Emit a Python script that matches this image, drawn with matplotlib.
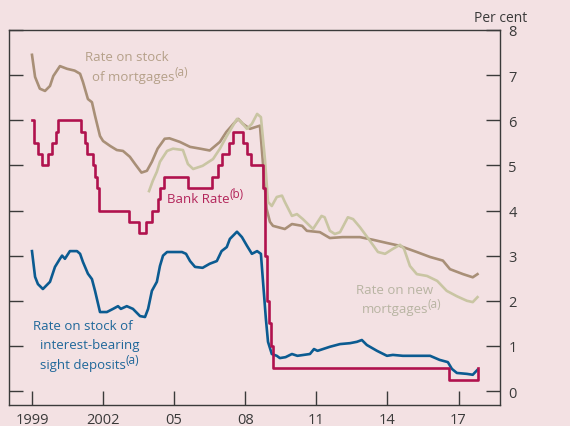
import matplotlib
matplotlib.use('Agg')
import matplotlib.pyplot as plt
import numpy as np

plt.rcParams['font.family'] = ['Open Sans', 'DejaVu Sans']

# Bank Rate: (date the rate took effect, rate)
bank_dates = [1999.0, 1999.08, 1999.25, 1999.42, 1999.67, 1999.83, 2000.0, 2000.08,
              2001.08, 2001.25, 2001.33, 2001.58, 2001.67, 2001.75, 2001.83,
              2003.08, 2003.5, 2003.83, 2004.08, 2004.33, 2004.42, 2004.58,
              2005.58, 2006.58, 2006.83, 2007.0, 2007.33, 2007.5, 2007.92,
              2008.08, 2008.25, 2008.75, 2008.83, 2008.92, 2009.0, 2009.08, 2009.17,
              2016.58, 2017.83]
bank_rate = [6.0, 5.5, 5.25, 5.0, 5.25, 5.5, 5.75, 6.0,
             5.75, 5.5, 5.25, 5.0, 4.75, 4.5, 4.0,
             3.75, 3.5, 3.75, 4.0, 4.25, 4.5, 4.75,
             4.5, 4.75, 5.0, 5.25, 5.5, 5.75, 5.5,
             5.25, 5.0, 4.5, 3.0, 2.0, 1.5, 1.0, 0.5,
             0.25, 0.5]

stock_dates = [1999.0, 1999.13, 1999.33, 1999.55, 1999.76, 1999.9, 2000.18, 2000.48,
               2000.8, 2001.03, 2001.15, 2001.36, 2001.53, 2001.66, 2001.87, 2002.0,
               2002.3, 2002.58, 2002.84, 2003.13, 2003.35, 2003.62, 2003.85, 2004.06,
               2004.3, 2004.6, 2004.8, 2005.24, 2005.67, 2006.1, 2006.5, 2006.93,
               2007.2, 2007.5, 2007.7, 2007.9, 2008.2, 2008.62, 2008.9, 2009.04,
               2009.17, 2009.67, 2009.97, 2010.4, 2010.6, 2011.15, 2011.57, 2012.1,
               2012.84, 2013.4, 2013.98, 2014.5, 2015.24, 2015.8, 2016.34, 2016.64,
               2017.19, 2017.6, 2017.8]
stock_rate = [7.45, 6.96, 6.7, 6.65, 6.76, 6.98, 7.2, 7.14,
              7.1, 7.03, 6.85, 6.47, 6.4, 6.1, 5.65, 5.54,
              5.43, 5.34, 5.32, 5.19, 5.03, 4.84, 4.88, 5.08,
              5.37, 5.59, 5.6, 5.52, 5.41, 5.37, 5.33, 5.52,
              5.74, 5.92, 6.03, 5.92, 5.81, 5.88, 4.04, 3.75,
              3.66, 3.59, 3.7, 3.66, 3.55, 3.52, 3.39, 3.41,
              3.41, 3.35, 3.28, 3.22, 3.08, 2.97, 2.89, 2.7,
              2.59, 2.52, 2.59]

new_dates = [2003.94, 2004.1, 2004.27, 2004.4, 2004.7, 2004.95, 2005.37, 2005.58,
             2005.8, 2006.2, 2006.64, 2006.93, 2007.22, 2007.65, 2007.78, 2008.07,
             2008.28, 2008.5, 2008.66, 2008.83, 2008.96, 2009.12, 2009.33, 2009.55,
             2009.67, 2009.97, 2010.18, 2010.43, 2010.86, 2011.22, 2011.35, 2011.57,
             2011.78, 2012.0, 2012.33, 2012.55, 2012.84, 2013.26, 2013.6, 2013.9,
             2014.23, 2014.53, 2014.7, 2014.95, 2015.24, 2015.67, 2016.1, 2016.5,
             2016.93, 2017.35, 2017.6, 2017.8]
new_rate = [4.43, 4.66, 4.86, 5.08, 5.32, 5.37, 5.34, 5.03,
            4.92, 4.99, 5.14, 5.37, 5.65, 6.03, 5.99, 5.81,
            5.92, 6.14, 6.07, 5.14, 4.19, 4.1, 4.3, 4.33,
            4.19, 3.88, 3.92, 3.81, 3.59, 3.88, 3.85, 3.55,
            3.48, 3.52, 3.85, 3.81, 3.63, 3.33, 3.08, 3.04,
            3.15, 3.24, 3.15, 2.77, 2.59, 2.55, 2.44, 2.22,
            2.1, 2.0, 1.97, 2.08]

dep_dates = [1999.0, 1999.13, 1999.25, 1999.46, 1999.76, 1999.97, 2000.18, 2000.27,
             2000.39, 2000.6, 2000.9, 2001.03, 2001.15, 2001.36, 2001.53, 2001.66,
             2001.87, 2002.16, 2002.42, 2002.63, 2002.75, 2003.0, 2003.26, 2003.56,
             2003.77, 2003.9, 2004.06, 2004.27, 2004.4, 2004.53, 2004.7, 2005.0,
             2005.33, 2005.5, 2005.67, 2005.88, 2006.2, 2006.5, 2006.8, 2007.0,
             2007.22, 2007.35, 2007.65, 2007.86, 2008.07, 2008.28, 2008.5, 2008.66,
             2008.75, 2008.87, 2008.96, 2009.12, 2009.33, 2009.46, 2009.7, 2009.97,
             2010.2, 2010.73, 2010.9, 2011.05, 2011.57, 2012.0, 2012.42, 2012.71,
             2012.92, 2013.13, 2013.56, 2013.98, 2014.23, 2014.65, 2015.24, 2015.8,
             2016.2, 2016.55, 2016.72, 2016.93, 2017.35, 2017.6, 2017.8]
dep_rate = [3.1, 2.53, 2.37, 2.26, 2.42, 2.75, 2.93, 3.0,
            2.93, 3.1, 3.1, 3.04, 2.86, 2.6, 2.48, 2.22,
            1.75, 1.75, 1.82, 1.88, 1.82, 1.88, 1.82, 1.66,
            1.64, 1.82, 2.22, 2.42, 2.77, 3.0, 3.08, 3.08,
            3.08, 3.04, 2.88, 2.75, 2.73, 2.82, 2.88, 3.1,
            3.19, 3.37, 3.53, 3.41, 3.22, 3.04, 3.1, 3.04,
            2.42, 1.6, 1.09, 0.82, 0.78, 0.73, 0.75, 0.82,
            0.78, 0.82, 0.93, 0.89, 0.98, 1.04, 1.06, 1.09,
            1.13, 1.02, 0.89, 0.78, 0.8, 0.78, 0.78, 0.78,
            0.69, 0.64, 0.49, 0.4, 0.38, 0.36, 0.47]

tick_years = [1999, 2002, 2005, 2008, 2011, 2014, 2017]
tick_labels = ['1999', '2002', '05', '08', '11', '14', '17']

bg = '#f3e1e3'
c_bank = '#b0124e'
c_stock = '#a88f77'
c_new = '#c9c5a3'
c_dep = '#0b5b91'
dark = '#3a3a3a'

fig = plt.figure(figsize=(5.7, 4.27), dpi=100, facecolor=bg)
ax = fig.add_axes([9/570, 1-406/427, 491/570, 375/427])
ax.set_facecolor(bg)

lw = 1.9
ax.plot(stock_dates, stock_rate, color=c_stock, lw=lw)
ax.plot(new_dates, new_rate, color=c_new, lw=lw)
ax.plot(dep_dates, dep_rate, color=c_dep, lw=lw)
ax.plot(bank_dates, bank_rate, color=c_bank, lw=lw, drawstyle='steps-post')

ax.set_xlim(1998.03, 2018.75)
ax.set_ylim(-0.31, 8)

for s in ax.spines.values():
    s.set_color(dark)
    s.set_linewidth(1)

ax.set_xticks(tick_years)
ax.set_xticklabels(tick_labels)
ax.set_yticks(range(0, 9))
ax.tick_params(axis='x', direction='in', length=10, width=1, color=dark,
               labelsize=10.5, labelcolor=dark, pad=5)
ax.tick_params(axis='y', direction='in', length=10, width=1, color=dark,
               left=True, right=True, labelleft=False, labelright=True,
               labelsize=10.5, labelcolor=dark, pad=6)

fs = 9.5


def label(x, y, txt, color, note=None):
    t = ax.text(x, y, txt, color=color, fontsize=fs, va='center')
    if note:
        ax.annotate('(%s)' % note, xy=(1, 0.42), xycoords=t, xytext=(-0.3, 0),
                    textcoords='offset points', color=color, fontsize=8.5,
                    va='bottom', ha='left')


label(2001.24, 7.41, 'Rate on stock', '#b5a089')
label(2001.55, 6.96, 'of mortgages', '#b5a089', 'a')
label(2004.7, 4.26, 'Bank Rate', '#b3245a', 'b')
label(2012.67, 2.26, 'Rate on new', '#b8b4a2')
label(2012.92, 1.82, 'mortgages', '#b8b4a2', 'a')
label(1999.04, 1.46, 'Rate on stock of', '#1f679a')
label(1999.34, 1.02, 'interest-bearing', '#1f679a')
label(1999.34, 0.58, 'sight deposits', '#1f679a', 'a')

fig.text(527/570, 1-18/427, 'Per cent', color=dark, fontsize=10, ha='right', va='center')

fig.savefig('out.png', dpi=100, facecolor=bg)
